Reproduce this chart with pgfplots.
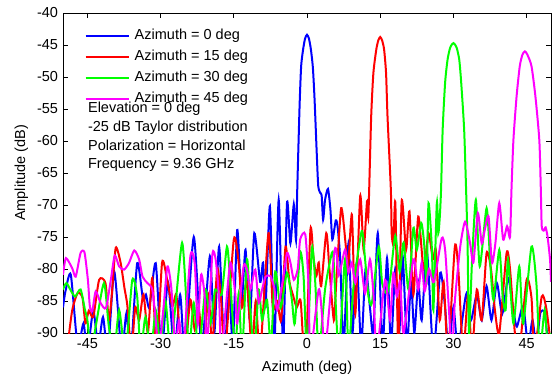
\documentclass[border=0pt]{standalone}
\usepackage{pgfplots}
\pgfplotsset{compat=1.18}
\usepackage{fontspec}
\setmainfont{Liberation Sans}
\begin{document}
\fontsize{14.5bp}{17bp}\selectfont
\begin{tikzpicture}
\begin{axis}[
  scale only axis, width=488bp, height=320bp,
  xmin=-50, xmax=50, ymin=-90, ymax=-40,
  xtick={-45,-30,-15,0,15,30,45},
  ytick={-90,-85,-80,-75,-70,-65,-60,-55,-50,-45,-40},
  tick align=inside, major tick length=5bp,
  axis line style={line width=0.9bp},
  every tick/.style={black, line width=0.8bp},
  /pgf/number format/assume math mode=true,
  ticklabel style={font=\fontsize{14.5bp}{17bp}\selectfont},
  label style={font=\fontsize{14.5bp}{17bp}\selectfont},
  xlabel={Azimuth (deg)}, ylabel={Amplitude (dB)},
  xlabel style={yshift=-3bp}, ylabel style={yshift=-1bp},
  clip=true,
  legend style={at={(axis description cs:0.038,0.957)}, anchor=north west,
    draw=none, fill=none, font=\fontsize{14.5bp}{17bp}\selectfont,
    row sep=6bp, column sep=4bp,
    nodes={inner sep=1bp, text height=10bp, text depth=3bp},
    cells={anchor=west}},
  legend image code/.code={\draw[#1, line width=2bp] (0bp,0bp) -- (43bp,0bp);},
  every axis plot/.append style={line width=2bp, smooth, tension=0.4},
]
% Azimuth = 0 deg
\addplot[color={rgb,1:red,0;green,0;blue,1}] coordinates {
(-50,-86) (-49.5,-83.5) (-48.4,-80.9) (-47.0,-92) (-45.8,-88.5) (-45.0,-93) (-43.8,-86.5) (-42.8,-92)
(-41.8,-87.5) (-40.8,-93) (-39.5,-80.4) (-38.0,-93) (-37.0,-86.9) (-36.1,-93) (-34.8,-79.1) (-33.6,-84.8)
(-33.0,-84) (-32.3,-86) (-31.0,-79.1) (-29.8,-93) (-28.5,-82) (-27.2,-93) (-26.0,-84) (-25.0,-93)
(-23.2,-75.0) (-21.6,-92) (-19.9,-78.0) (-19.0,-90) (-18.0,-76.5) (-16.9,-93) (-16.0,-82) (-15.2,-92)
(-14.3,-73.9) (-13.4,-85) (-12.6,-77) (-11.7,-88) (-10.8,-74.4) (-9.6,-82) (-9.0,-79) (-8.5,-86)
(-7.6,-70.2) (-6.7,-92) (-5.8,-69.2) (-4.9,-92) (-4.1,-69.7) (-3.4,-76) (-2.7,-69.9) (-2.25,-75.5)
(-2.0,-67.6) (-1.8,-62) (-1.5,-54) (-1.2,-48.3) (-0.8,-45.7) (-0.4,-44.0) (0,-43.4) (0.4,-44)
(0.8,-45.7) (1.2,-48.5) (1.55,-53.5) (2.0,-62) (2.3,-67) (2.7,-68.1) (3.0,-68.5) (3.3,-72.3)
(3.7,-69.2) (4.3,-67.5) (4.8,-70.7) (5.2,-75.4) (5.9,-72.4) (6.3,-73.6) (6.8,-78.5) (7.5,-92)
(8.5,-76) (9.3,-90) (10.2,-79) (11.1,-92) (12.0,-80) (12.9,-86) (13.6,-90) (14.5,-74.4)
(15.5,-92) (16.4,-78.3) (17.2,-92) (18.1,-79.9) (18.9,-90) (19.6,-78) (20.5,-92) (21.3,-82)
(22.0,-90) (22.8,-82) (23.5,-88) (24.6,-77.5) (25.9,-93) (27.3,-80.6) (28.3,-86) (29.0,-93)
(30.0,-86) (30.9,-93) (31.8,-88) (32.7,-83.8) (33.6,-88) (34.8,-84) (35.8,-88) (36.8,-82.7)
(37.8,-88) (38.9,-82.2) (40.0,-87) (41.2,-81.4) (42.2,-86) (43.0,-89) (44.3,-85.8) (45.3,-92)
(46.2,-88) (47.0,-92) (47.8,-86.9) (48.7,-86.9) (49.5,-92) (50,-90)
};
% Azimuth = 15 deg
\addplot[color={rgb,1:red,1;green,0;blue,0}] coordinates {
(-50,-95) (-49.1,-92) (-48.1,-86.4) (-47.0,-83.75) (-46.0,-84.5) (-45.4,-88.5) (-44.7,-86.5) (-43.8,-87.5)
(-42.6,-81.7) (-41.3,-82.2) (-40.6,-88) (-40.0,-84) (-39.2,-76.7) (-38.2,-79) (-37.4,-83) (-36.8,-85.8)
(-36.0,-93) (-35.2,-86) (-34.4,-88) (-33.5,-84) (-32.6,-90) (-31.7,-81.4) (-30.8,-93) (-29.7,-79)
(-28.7,-81.5) (-27.6,-85.8) (-26.8,-84) (-26.0,-90) (-25.0,-93) (-23.9,-84.8) (-23.0,-89.5) (-22.2,-86)
(-21.2,-93) (-20.2,-84) (-19.4,-92) (-18.4,-80) (-17.6,-85) (-16.8,-93) (-15.0,-75.4) (-14.0,-79)
(-13.3,-86) (-12.3,-82) (-11.3,-93) (-10.5,-85) (-9.6,-93) (-7.9,-74.4) (-7.0,-86) (-6.1,-85)
(-5.3,-88) (-4.4,-76.5) (-3.6,-82) (-2.9,-84) (-2.1,-86) (-1.3,-85) (-0.35,-95) (0.7,-73.9)
(1.3,-78) (1.9,-81.1) (2.4,-79) (2.9,-82.7) (3.95,-74.4) (4.6,-80) (5.5,-88) (6.0,-82)
(7.0,-70.5) (7.9,-76) (8.4,-80) (9.2,-71.5) (9.9,-87) (10.9,-68.6) (11.6,-77) (12.3,-69.4)
(12.55,-72) (12.74,-67.6) (13.15,-56.2) (13.6,-49.4) (14.2,-45.7) (14.6,-44.3) (15,-43.75) (15.4,-44.3)
(15.8,-45.7) (16.2,-49.4) (16.5,-56.2) (17.18,-67.6) (17.35,-74.4) (17.7,-76) (18.1,-69.7) (18.7,-92)
(19.4,-69.4) (20.3,-77) (21.0,-71) (21.8,-84) (22.8,-71.8) (23.9,-80) (24.9,-74.4) (25.8,-78.5)
(26.4,-77) (27.2,-88) (28.0,-82) (28.9,-93) (30.3,-76.5) (31.0,-80) (32.0,-93) (33.0,-84)
(33.8,-93) (34.8,-83.2) (35.8,-88) (36.8,-77.5) (37.7,-80) (38.5,-86.4) (39.4,-90) (40.9,-77.5)
(41.6,-80) (42.6,-90) (43.5,-93) (45.0,-81.7) (46.0,-84.5) (46.6,-93) (48.1,-84.3) (49.0,-86) (50,-92)
};
% Azimuth = 30 deg
\addplot[color={rgb,1:red,0;green,1;blue,0}] coordinates {
(-50,-83.2) (-49.3,-82.2) (-48.3,-83.5) (-47.5,-84.3) (-46.4,-83.2) (-45.5,-86.4) (-45.0,-88) (-44.3,-93)
(-43.3,-89) (-41.6,-82.2) (-40.6,-89) (-39.5,-93) (-38.5,-86.4) (-37.2,-93) (-35.8,-81.7) (-34.8,-84.3)
(-34.1,-93) (-33.1,-87.5) (-32.0,-93) (-31.0,-86.4) (-30.0,-92) (-29.0,-85) (-28.0,-93) (-27.0,-86)
(-25.6,-75.9) (-24.8,-84) (-24.2,-93) (-23.2,-85.3) (-22.2,-93) (-20.8,-83.2) (-19.8,-88.5) (-18.8,-83.2)
(-17.5,-84) (-16.4,-76.5) (-15.7,-82.2) (-14.7,-93) (-14.0,-83.8) (-13.3,-93) (-12.3,-78.5) (-11.6,-86.5)
(-10.8,-93) (-9.9,-83.2) (-9.2,-88) (-8.2,-84.8) (-7.4,-92) (-6.5,-80.4) (-5.4,-86) (-4.1,-80.6)
(-3.1,-84.8) (-2.5,-88.5) (-1.4,-77.5) (-0.7,-81.2) (0.0,-93) (1.0,-76.7) (1.7,-82.2) (2.4,-93)
(3.7,-83.2) (4.8,-78.5) (5.4,-78) (6.5,-93) (7.8,-78.5) (8.5,-93) (9.5,-83) (11.2,-74.1)
(11.9,-78.5) (12.6,-84.3) (13.3,-85.3) (14.7,-76.5) (15.4,-82.2) (16.4,-83.8) (17.1,-81.2) (18.1,-74.8)
(19.0,-80.4) (19.8,-75.9) (20.8,-83.2) (21.8,-73.6) (22.5,-77) (23.4,-72.8) (24.0,-76) (24.5,-82.2)
(24.9,-69.7) (25.6,-77) (25.9,-86.4) (26.6,-69.7) (26.9,-74.4) (27.2,-72) (27.47,-67.6) (27.8,-58.2)
(28.3,-50.9) (28.8,-47.3) (29.3,-45.5) (29.7,-44.9) (30,-44.7) (30.3,-44.9) (30.7,-45.5) (31.2,-47.3)
(31.6,-50.9) (32.2,-58.2) (32.6,-67.6) (32.9,-76) (33.2,-90) (33.8,-79) (34.6,-69.2) (35.4,-79.6)
(36.8,-70.5) (37.5,-78.5) (38.2,-84.8) (39.4,-77) (40.1,-84.3) (40.7,-86.4) (41.2,-78.5) (42.3,-88.5)
(43.5,-79.6) (44.3,-88.5) (46.0,-76.5) (47.0,-82.2) (47.7,-93) (48.7,-86.4) (49.4,-93) (50,-90)
};
% Azimuth = 45 deg
\addplot[color={rgb,1:red,1;green,0;blue,1}] coordinates {
(-50,-80.9) (-49.4,-78.3) (-48.1,-79.9) (-47.4,-81.2) (-46.4,-77.5) (-45.6,-77.4) (-44.9,-81.7) (-44.5,-85.8)
(-44.0,-86.6) (-43.3,-83.5) (-42.3,-85.3) (-41.2,-86.1) (-40.2,-81.7) (-39.4,-77.9) (-38.5,-79.6) (-37.5,-80.1)
(-36.5,-79.1) (-35.4,-77.1) (-34.4,-78.5) (-33.7,-81.2) (-32.7,-82.2) (-31.7,-83.2) (-31.0,-88) (-30.4,-93)
(-29.4,-86) (-28.6,-79.6) (-27.8,-83) (-27.0,-92) (-26.2,-88) (-25.4,-93) (-23.9,-78) (-23.0,-79.2)
(-22.4,-88.6) (-21.7,-80.9) (-21.0,-84) (-20.5,-92) (-19.4,-77.8) (-18.7,-78.6) (-18.0,-84.8) (-17.6,-93)
(-16.7,-86.5) (-15.7,-79) (-14.7,-83.8) (-14.3,-88.5) (-13.0,-79.6) (-12.3,-80.1) (-11.6,-83.2) (-10.6,-80.1)
(-9.9,-85.3) (-9.2,-83.2) (-8.5,-81.2) (-7.5,-81.1) (-6.7,-83) (-6.1,-86.4) (-5.0,-82) (-4.1,-77.5)
(-3.4,-79) (-2.7,-81.7) (-1.9,-80) (-1.4,-75.4) (-0.35,-74.6) (0.3,-82.2) (0.7,-93) (2.4,-83.2)
(3.1,-87.4) (3.7,-93) (5.5,-78) (6.0,-77) (6.5,-81) (7.8,-77) (8.5,-80.6) (9.2,-79)
(9.9,-82.2) (10.9,-78.5) (11.9,-83.8) (12.9,-78.5) (13.6,-83.8) (14.3,-93) (16.0,-81.7) (17.0,-87.9)
(17.7,-80.6) (18.4,-84.3) (19.1,-82) (19.8,-90) (21.8,-78.5) (22.8,-83.2) (23.5,-79) (24.1,-83.5)
(25.0,-80) (26.0,-82) (27.6,-75.2) (28.3,-77) (29.0,-85.3) (29.7,-93) (30.3,-85) (31.4,-76.5)
(32.4,-72.6) (33.4,-75.9) (34.1,-79) (35.0,-71.25) (35.8,-76) (36.4,-74) (37.2,-71.8) (37.9,-79)
(38.6,-76) (39.4,-69.7) (40.2,-75.4) (41.0,-73.3) (41.6,-75) (41.9,-67.6) (42.3,-59.8) (42.95,-53)
(43.6,-48.3) (44.15,-46.5) (44.65,-46.0) (45.15,-46.5) (46.0,-48.3) (46.8,-53) (47.6,-59.8) (47.9,-67.2)
(48.1,-73.3) (48.5,-74) (48.9,-73.5) (49.3,-75) (49.8,-78.5) (50,-82)
};
\legend{Azimuth = 0 deg, Azimuth = 15 deg, Azimuth = 30 deg, Azimuth = 45 deg}
\node[anchor=base west, inner sep=0pt] at (axis cs:-44.9,-55.53) {Elevation = 0 deg};
\node[anchor=base west, inner sep=0pt] at (axis cs:-44.9,-58.5) {-25 dB Taylor distribution};
\node[anchor=base west, inner sep=0pt] at (axis cs:-44.9,-61.51) {Polarization = Horizontal};
\node[anchor=base west, inner sep=0pt] at (axis cs:-44.9,-64.3) {Frequency = 9.36 GHz};
\coordinate (SW) at (rel axis cs:0,0);
\coordinate (NE) at (rel axis cs:1,1);
\end{axis}
\pgfresetboundingbox
\path[use as bounding box] (SW) ++(-63bp,-47bp) rectangle ([shift={(4bp,13bp)}]NE);
\end{tikzpicture}
\end{document}
